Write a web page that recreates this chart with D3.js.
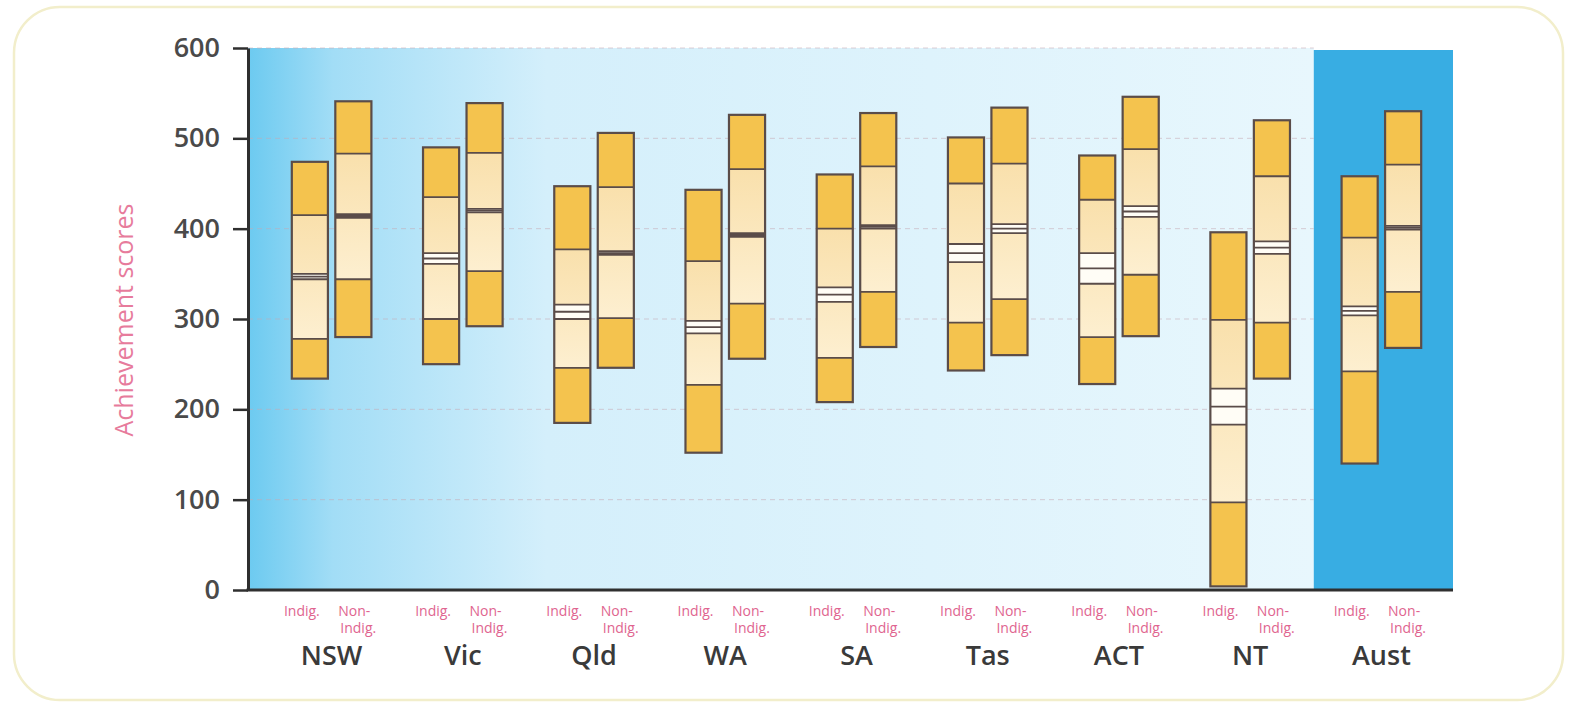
<!DOCTYPE html>
<html>
<head>
<meta charset="utf-8">
<script src="https://cdn.jsdelivr.net/npm/d3@7"></script>
<style>
  html, body { margin: 0; padding: 0; background: #ffffff; }
  svg { display: block; }
</style>
</head>
<body>
<svg id="chart" width="1575" height="707"></svg>
<script>
// ---- Data ----
const states = ["NSW", "Vic", "Qld", "WA", "SA", "Tas", "ACT", "NT", "Aust"];
const groups = ["Indig.", "Non-Indig."];
const yTicks = [0, 100, 200, 300, 400, 500, 600];

// Indigenous students: percentiles, mean and half-width of confidence interval
const indigP5   = [234, 250, 185, 152, 208, 243, 228,   4, 140];
const indigP25  = [278, 300, 246, 227, 257, 296, 280,  97, 242];
const indigMean = [347, 367, 308, 291, 327, 373, 356, 203, 309];
const indigCI   = [  3,   6,   8,   7,   8,  10,  17,  20,   5];
const indigP75  = [415, 435, 377, 364, 400, 450, 432, 299, 390];
const indigP95  = [474, 490, 447, 443, 460, 501, 481, 396, 458];

// Non-Indigenous students
const nonP5   = [280, 292, 246, 256, 269, 260, 281, 234, 268];
const nonP25  = [344, 353, 301, 317, 330, 322, 349, 296, 330];
const nonMean = [414, 420, 373, 393, 402, 400, 419, 379, 401];
const nonCI   = [  2,   2,   2,   2,   2,   5,   6,   7,   2];
const nonP75  = [483, 484, 446, 466, 469, 472, 488, 458, 471];
const nonP95  = [541, 539, 506, 526, 528, 534, 546, 520, 530];

const yTitle = "Achievement scores";

// ---- Build rows ----
const rows = [];
states.forEach((s, i) => {
  rows.push({ state: s, group: groups[0], p5: indigP5[i], p25: indigP25[i], mean: indigMean[i], ci: indigCI[i], p75: indigP75[i], p95: indigP95[i] });
  rows.push({ state: s, group: groups[1], p5: nonP5[i], p25: nonP25[i], mean: nonMean[i], ci: nonCI[i], p75: nonP75[i], p95: nonP95[i] });
});

// ---- Layout ----
const svg = d3.select("#chart");
const axisX = 248, plotTop = 48, plotBottom = 590, plotRight = 1453;

const y = d3.scaleLinear().domain([0, 600]).range([plotBottom, plotTop]);
const x = d3.scaleBand().domain(states).range([266, 1447]).paddingInner(0).paddingOuter(0);
const bw = x.bandwidth();
const xs = d3.scaleBand().domain(groups).range([bw / 2 - 39.8, bw / 2 + 39.8]).paddingInner(0.17).paddingOuter(0);

const defs = svg.append("defs");
const grad = defs.append("linearGradient").attr("id", "bg").attr("x1", "0").attr("x2", "1").attr("y1", "0").attr("y2", "0");
grad.append("stop").attr("offset", "0").attr("stop-color", "#6ccaf0");
grad.append("stop").attr("offset", "0.08").attr("stop-color", "#a2ddf6");
grad.append("stop").attr("offset", "0.28").attr("stop-color", "#d4effb");
grad.append("stop").attr("offset", "1").attr("stop-color", "#e8f7fd");

const lightGrad = defs.append("linearGradient").attr("id", "light").attr("x1", "0").attr("x2", "0").attr("y1", "0").attr("y2", "1");
lightGrad.append("stop").attr("offset", "0").attr("stop-color", "#f9e0ac");
lightGrad.append("stop").attr("offset", "1").attr("stop-color", "#fdefd0");

// Outer rounded frame
svg.append("rect")
  .attr("x", 14).attr("y", 7).attr("width", 1549).attr("height", 693)
  .attr("rx", 46).attr("ry", 46)
  .attr("fill", "#ffffff").attr("stroke", "#f2eecb").attr("stroke-width", 2.5);

// Plot background
svg.append("rect")
  .attr("x", axisX).attr("y", plotTop)
  .attr("width", x("Aust") - 2 - axisX).attr("height", plotBottom - plotTop)
  .attr("fill", "url(#bg)");

// Australia panel
svg.append("rect")
  .attr("x", x("Aust") - 2).attr("y", plotTop + 2)
  .attr("width", plotRight - (x("Aust") - 2)).attr("height", plotBottom - plotTop - 2)
  .attr("fill", "#38ade3");

// Grid lines
svg.append("g").selectAll("line").data(yTicks.filter(d => d > 0)).join("line")
  .attr("x1", axisX).attr("x2", x("Aust") - 2)
  .attr("y1", d => y(d)).attr("y2", d => y(d))
  .attr("stroke", "#c7a9b4").attr("stroke-width", 1)
  .attr("stroke-dasharray", "5,4").attr("opacity", 0.55);

// Boxes
const box = svg.append("g").selectAll("g").data(rows).join("g")
  .attr("transform", d => `translate(${x(d.state) + xs(d.group)},0)`);
const w = xs.bandwidth();
const dark = "#f4c34e", edge = "#5a4c49";

box.append("rect").attr("x", 0).attr("width", w)
  .attr("y", d => y(d.p25)).attr("height", d => y(d.p5) - y(d.p25)).attr("fill", dark);
box.append("rect").attr("x", 0).attr("width", w)
  .attr("y", d => y(d.p95)).attr("height", d => y(d.p75) - y(d.p95)).attr("fill", dark);
box.append("rect").attr("x", 0).attr("width", w)
  .attr("y", d => y(d.p75)).attr("height", d => y(d.p25) - y(d.p75)).attr("fill", "url(#light)");
box.append("rect").attr("x", 0).attr("width", w)
  .attr("y", d => y(d.mean + d.ci)).attr("height", d => y(d.mean - d.ci) - y(d.mean + d.ci)).attr("fill", "#fffdf6");
const lineKeys = [d => d.p25, d => d.p75, d => d.mean - d.ci, d => d.mean, d => d.mean + d.ci];
lineKeys.forEach(f => {
  box.append("line").attr("x1", 0).attr("x2", w)
    .attr("y1", d => y(f(d))).attr("y2", d => y(f(d)))
    .attr("stroke", edge).attr("stroke-width", 1.8);
});
box.append("rect").attr("x", 0).attr("width", w)
  .attr("y", d => y(d.p95)).attr("height", d => y(d.p5) - y(d.p95))
  .attr("fill", "none").attr("stroke", edge).attr("stroke-width", 2.2);

// Y axis
const yAxis = svg.append("g").attr("transform", `translate(${axisX},0)`)
  .call(d3.axisLeft(y).tickValues(yTicks).tickSize(15).tickSizeOuter(0).tickPadding(13));
yAxis.select(".domain").attr("stroke", "#2f2f2f").attr("stroke-width", 3);
yAxis.selectAll(".tick line").attr("stroke", "#2f2f2f").attr("stroke-width", 2.5);
yAxis.selectAll(".tick text")
  .attr("font-family", "'Open Sans', sans-serif").attr("font-size", 27).attr("font-weight", 600)
  .attr("fill", "#4a4a4a");

// Bottom axis line
svg.append("line").attr("x1", axisX - 1.5).attr("x2", plotRight)
  .attr("y1", plotBottom).attr("y2", plotBottom)
  .attr("stroke", "#2f2f2f").attr("stroke-width", 3);

// State names via bottom axis
const xAxis = svg.append("g").attr("transform", `translate(0,${plotBottom})`)
  .call(d3.axisBottom(x).tickSize(0).tickPadding(56));
xAxis.select(".domain").remove();
xAxis.selectAll(".tick text")
  .attr("font-family", "'Open Sans', sans-serif").attr("font-size", 27).attr("font-weight", 600)
  .attr("fill", "#3a3a3a");

// Group sub-labels
const sub = svg.append("g").attr("font-family", "'Open Sans', sans-serif").attr("font-size", 14).attr("fill", "#e0648f");
states.forEach(s => {
  sub.append("text")
    .attr("x", x(s) + xs(groups[0]) + w / 2 - 8).attr("y", 616)
    .attr("text-anchor", "middle").text("Indig.");
  sub.append("text").attr("x", x(s) + xs(groups[1]) + 3).attr("y", 616).attr("text-anchor", "start").text("Non-");
  sub.append("text").attr("x", x(s) + xs(groups[1]) + 5).attr("y", 633).attr("text-anchor", "start").text("Indig.");
});

// Y title
svg.append("text")
  .attr("transform", `translate(133,320) rotate(-90)`)
  .attr("text-anchor", "middle")
  .attr("font-family", "'Open Sans', sans-serif").attr("font-size", 25)
  .attr("fill", "#e77b9c")
  .text(yTitle);
</script>
</body>
</html>
